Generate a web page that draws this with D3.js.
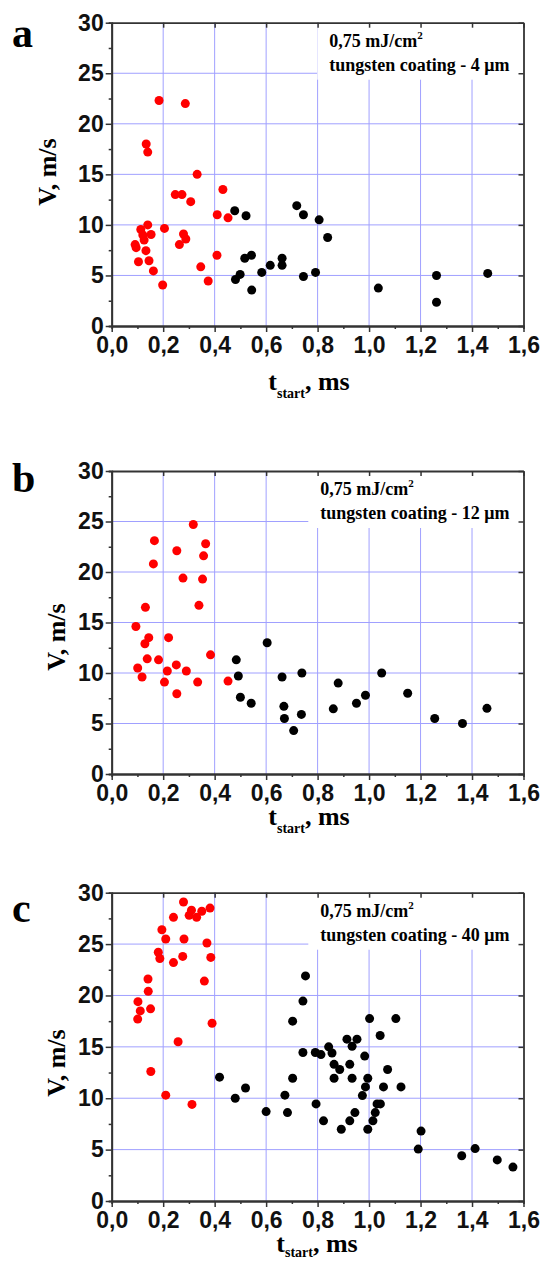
<!DOCTYPE html>
<html>
<head>
<meta charset="utf-8">
<script src="https://cdn.jsdelivr.net/npm/d3@7"></script>
<style>
  body { margin:0; background:#fff; }
  .tick text { font-family:"Liberation Sans", Arial, sans-serif; font-weight:bold; }
  .serif { font-family:"Liberation Serif", "Times New Roman", serif; font-weight:bold; }
</style>
</head>
<body>
<svg id="Vis" width="541" height="1262"></svg>
<script>
// axis ticks
var xMajor = [0, 0.2, 0.4, 0.6, 0.8, 1.0, 1.2, 1.4, 1.6];
var xMinor = [0.1, 0.3, 0.5, 0.7, 0.9, 1.1, 1.3, 1.5];
var yMajor = [0, 5, 10, 15, 20, 25, 30];
var yMinor = [2.5, 7.5, 12.5, 17.5, 22.5, 27.5];

// panel a - 4 um
var aRed = [[0.184,22.3],[0.286,22.0],[0.134,18.0],[0.140,17.2],[0.332,15.0],[0.432,13.5],
  [0.247,13.0],[0.273,13.0],[0.307,12.3],[0.410,11.0],[0.452,10.7],[0.140,10.0],[0.113,9.55],
  [0.205,9.65],[0.153,9.05],[0.121,9.0],[0.126,8.5],[0.279,9.1],[0.288,8.6],[0.263,8.05],
  [0.091,8.05],[0.095,7.75],[0.133,7.45],[0.409,7.0],[0.104,6.35],[0.145,6.45],[0.346,5.85],
  [0.162,5.45],[0.375,4.45],[0.198,4.05]];
var aBlack = [[0.478,11.4],[0.522,10.9],[0.543,7.0],[0.517,6.7],[0.616,6.0],[0.662,6.7],
  [0.662,6.0],[0.583,5.3],[0.499,5.1],[0.481,4.6],[0.544,3.55],[0.719,11.9],[0.745,11.0],
  [0.806,10.5],[0.839,8.75],[0.745,4.9],[0.792,5.3],[1.036,3.75],[1.262,5.0],[1.262,2.35],
  [1.461,5.2]];

// panel b - 12 um
var bRed = [[0.317,24.7],[0.166,23.1],[0.253,22.1],[0.365,22.8],[0.357,21.6],[0.162,20.8],
  [0.277,19.4],[0.353,19.3],[0.339,16.7],[0.131,16.5],[0.094,14.6],[0.144,13.5],[0.221,13.5],
  [0.129,12.9],[0.384,11.8],[0.138,11.4],[0.182,11.3],[0.251,10.8],[0.101,10.5],[0.216,10.2],
  [0.290,10.2],[0.118,9.6],[0.205,9.1],[0.334,9.1],[0.452,9.2],[0.253,7.95]];
var bBlack = [[0.604,13.0],[0.484,11.3],[0.492,9.7],[0.500,7.6],[0.542,7.0],[0.662,9.6],
  [0.669,6.7],[0.671,5.5],[0.707,4.3],[0.739,10.0],[0.737,5.9],[0.861,6.45],[0.880,9.0],
  [0.951,7.0],[0.986,7.8],[1.049,10.0],[1.150,8.0],[1.255,5.5],[1.363,5.0],[1.458,6.5]];

// panel c - 40 um
var cRed = [[0.279,29.1],[0.310,28.3],[0.301,27.8],[0.330,27.6],[0.350,28.2],[0.382,28.5],
  [0.240,27.6],[0.195,26.4],[0.210,25.5],[0.281,25.5],[0.370,25.1],[0.181,24.2],[0.187,23.6],
  [0.276,23.8],[0.240,23.2],[0.385,23.7],[0.141,21.6],[0.360,21.4],[0.142,20.4],[0.102,19.4],
  [0.111,18.5],[0.151,18.7],[0.101,17.7],[0.390,17.3],[0.258,15.5],[0.152,12.6],[0.210,10.3],
  [0.312,9.4]];
var cBlack = [[0.419,12.05],[0.480,10.0],[0.520,11.0],[0.600,8.7],[0.673,10.3],[0.683,8.6],
  [0.703,17.5],[0.703,11.95],[0.753,21.9],[0.743,19.45],[1.002,17.75],[1.104,17.75],
  [1.043,16.1],[0.914,15.75],[0.953,15.75],[0.934,15.06],[0.843,15.0],[0.743,14.45],
  [0.791,14.45],[0.813,14.25],[0.856,14.4],[0.983,14.1],[0.864,13.3],[0.925,13.3],
  [0.886,12.8],[1.072,12.8],[0.864,11.95],[0.934,11.95],[0.995,11.95],[0.986,11.1],
  [1.056,11.1],[1.124,11.1],[0.974,10.26],[0.794,9.45],[1.031,9.45],[1.044,9.45],
  [0.945,8.6],[1.024,8.6],[0.823,7.8],[0.925,7.8],[1.015,7.8],[0.892,6.98],[0.995,6.98],
  [1.202,6.8],[1.191,5.05],[1.412,5.1],[1.360,4.4],[1.498,4.0],[1.559,3.3]];

var panels = [
  {letter:"a", coat:"4", red:aRed, black:aBlack, top:22.7, bottom:326, letterY:47, yLabX:47, yLabY:172, xLabX:309, xLabY:390, subDy:8},
  {letter:"b", coat:"12", red:bRed, black:bBlack, top:471, bottom:774, letterY:492, yLabX:56, yLabY:637, xLabX:309, xLabY:825, subDy:8},
  {letter:"c", coat:"40", red:cRed, black:cBlack, top:892.7, bottom:1201, letterY:922, yLabX:56, yLabY:1063, xLabX:317, xLabY:1252, subDy:5}
];

var svg = d3.select("#Vis");
var left = 111.7, right = 523.5;
var gridColor = "#a0a0ff";
var axisColor = "#333";
var fmt = function(d){ return d3.format(".1f")(d).replace(".", ","); };

function styleAxis(g, fontSize){
  g.select(".domain").attr("stroke", axisColor).attr("stroke-width", 1.8);
  g.selectAll(".tick line").attr("stroke", axisColor).attr("stroke-width", 1.5);
  g.selectAll(".tick text").attr("font-size", fontSize).attr("fill", "#111");
}

function drawPanel(p){
  var x = d3.scaleLinear().domain([0, 1.6]).range([left, right]);
  var y = d3.scaleLinear().domain([0, 30]).range([p.bottom, p.top]);
  var g = svg.append("g").attr("class", "panel_" + p.letter);

  // grid
  g.append("g").selectAll("line.vg")
   .data(xMajor.slice(1, -1)).enter().append("line")
   .attr("x1", function(d){ return x(d); }).attr("x2", function(d){ return x(d); })
   .attr("y1", p.top).attr("y2", p.bottom)
   .attr("stroke", gridColor).attr("stroke-width", 1);
  g.append("g").selectAll("line.hg")
   .data(yMajor.slice(1, -1)).enter().append("line")
   .attr("y1", function(d){ return y(d); }).attr("y2", function(d){ return y(d); })
   .attr("x1", left).attr("x2", right)
   .attr("stroke", gridColor).attr("stroke-width", 1);

  // annotation box
  var note = g.append("g");
  var line2 = note.append("text").attr("class", "serif")
     .attr("font-size", 18).attr("y", p.top + 48)
     .text("tungsten coating - " + p.coat + " \u03bcm");
  var w = line2.node().getComputedTextLength();
  var tx = right - 14 - w;
  line2.attr("x", tx);
  var line1 = note.append("text").attr("class", "serif")
     .attr("font-size", 18).attr("x", tx).attr("y", p.top + 24);
  line1.append("tspan").text("0,75 mJ/cm");
  line1.append("tspan").attr("font-size", 11).attr("dy", -8).text("2");
  note.insert("rect", ":first-child")
     .attr("x", tx - 12).attr("y", p.top)
     .attr("width", right - tx + 12).attr("height", 57)
     .attr("fill", "#fff");

  // points
  g.append("g").selectAll("circle")
   .data(p.red).enter().append("circle")
   .attr("cx", function(d){ return x(d[0]); }).attr("cy", function(d){ return y(d[1]); })
   .attr("r", 4.5).attr("fill", "#ff0000");
  g.append("g").selectAll("circle")
   .data(p.black).enter().append("circle")
   .attr("cx", function(d){ return x(d[0]); }).attr("cy", function(d){ return y(d[1]); })
   .attr("r", 4.5).attr("fill", "#000");

  // axes
  var xb = g.append("g").attr("transform", "translate(0," + p.bottom + ")")
     .call(d3.axisBottom(x).tickValues(xMajor).tickSizeInner(6).tickSizeOuter(0).tickPadding(5).tickFormat(fmt));
  styleAxis(xb, 23);
  var xbm = g.append("g").attr("transform", "translate(0," + p.bottom + ")")
     .call(d3.axisBottom(x).tickValues(xMinor).tickSize(3).tickFormat(""));
  styleAxis(xbm, 0);
  var xt = g.append("g").attr("transform", "translate(0," + p.top + ")")
     .call(d3.axisTop(x).tickValues(xMajor).tickSizeInner(-5).tickSizeOuter(0).tickFormat(""));
  styleAxis(xt, 0);

  var yl = g.append("g").attr("transform", "translate(" + left + ",0)")
     .call(d3.axisLeft(y).tickValues(yMajor).tickSizeInner(6).tickSizeOuter(0).tickPadding(2));
  styleAxis(yl, 23);
  var ylm = g.append("g").attr("transform", "translate(" + left + ",0)")
     .call(d3.axisLeft(y).tickValues(yMinor).tickSize(3).tickFormat(""));
  styleAxis(ylm, 0);
  var yr = g.append("g").attr("transform", "translate(" + right + ",0)")
     .call(d3.axisRight(y).tickValues(yMajor).tickSizeInner(-5).tickSizeOuter(0).tickFormat(""));
  styleAxis(yr, 0);

  // labels
  g.append("text").attr("class", "serif").attr("font-size", 42)
   .attr("x", 12).attr("y", p.letterY).text(p.letter);
  g.append("text").attr("class", "serif").attr("font-size", 26)
   .attr("text-anchor", "middle")
   .attr("transform", "translate(" + (p.yLabX + 9) + "," + p.yLabY + ") rotate(-90)")
   .text("V, m/s");
  var xl = g.append("text").attr("class", "serif").attr("font-size", 26)
   .attr("text-anchor", "middle").attr("x", p.xLabX).attr("y", p.xLabY);
  xl.append("tspan").text("t");
  xl.append("tspan").attr("font-size", 14).attr("dy", p.subDy).text("start");
  xl.append("tspan").attr("dy", -p.subDy).text(", ms");
}

panels.forEach(drawPanel);
</script>
</body>
</html>
